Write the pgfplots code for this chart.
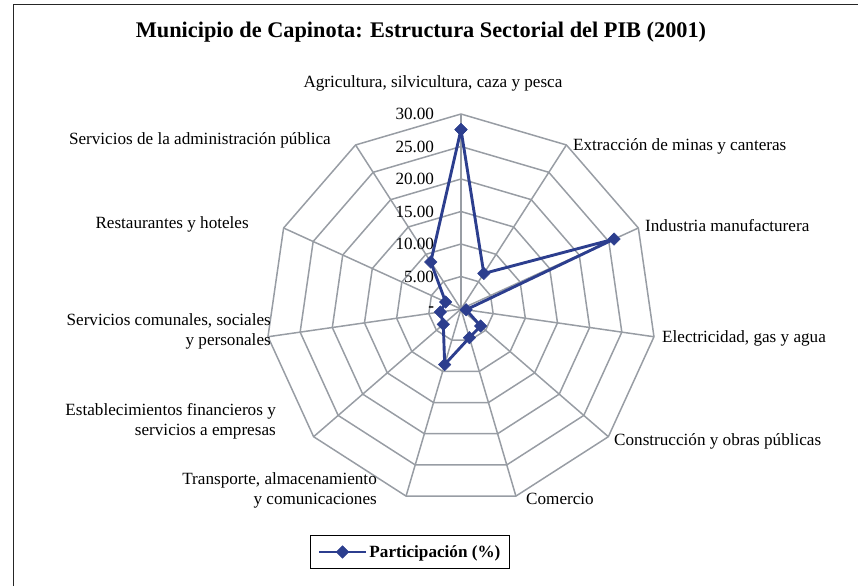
\documentclass[border=0pt]{standalone}
\usepackage{fontspec}
\setmainfont{Liberation Serif}
\usepackage{pgfplots}
\pgfplotsset{compat=1.18}
\usepackage{pgfplotstable}

\definecolor{serie}{RGB}{44,62,142}
\definecolor{rejilla}{RGB}{152,157,164}

% angles of the 11 spokes (clockwise from the top)
\pgfplotstableread{
ang one
90 1
57.2727 1
24.5455 1
-8.1818 1
-40.9091 1
-73.6364 1
-106.3636 1
-139.0909 1
-171.8182 1
-204.5455 1
-237.2727 1
90 1
}\angulos

% Participacion (%) by sector, polar: angle, value
\pgfplotstableread{
ang val
90 27.6
57.2727 6.5
24.5455 25.9
-8.1818 0.8
-40.9091 4.0
-73.6364 4.6
-106.3636 8.9
-139.0909 3.6
-171.8182 3.2
-204.5455 2.6
-237.2727 8.6
90 27.6
}\pib

\begin{document}
\begin{tikzpicture}
\begin{axis}[
  x=6.5bp, y=6.5bp,
  xmin=-70.92, xmax=61.08,
  ymin=-42.62, ymax=47.54,
  hide axis,
  clip=false,
  legend style={at={(axis cs:-7.85,-37.38)}, anchor=center,
    draw=black, line width=1.1pt, inner xsep=7pt, inner ysep=8pt,
    font=\fontsize{17.2}{20}\selectfont\bfseries},
  legend image code/.code={
    \draw[mark repeat=2,mark phase=2,#1] plot coordinates {(0cm,0cm)(0.83cm,0cm)(1.66cm,0cm)};},
]
% rings
\pgfplotsinvokeforeach{5,10,15,20,25,30}{
  \addplot[rejilla, line width=1.5pt, forget plot, data cs=polar] table[x=ang, y expr=#1*\thisrow{one}] {\angulos};
}
% spokes
\pgfplotsinvokeforeach{90,57.2727,24.5455,-8.1818,-40.9091,-73.6364,-106.3636,-139.0909,-171.8182,-204.5455,-237.2727}{
  \addplot[rejilla, line width=1.5pt, forget plot, data cs=polar] coordinates {(#1,0) (#1,30)};
}
% series
\addplot[serie, line width=2.9pt, mark=square*, mark size=4.4pt,
  mark options={rotate=45, solid, line width=0.5pt}, data cs=polar]
  table[x=ang, y=val] {\pib};
\addlegendentry{Participación (\%)}

% radial tick labels
\begin{scope}[every node/.style={anchor=east, font=\fontsize{17.2}{20}\selectfont}]
\node at (axis cs:-3.6,30) {30.00};
\node at (axis cs:-3.6,25) {25.00};
\node at (axis cs:-3.6,20) {20.00};
\node at (axis cs:-3.6,15) {15.00};
\node at (axis cs:-3.6,10) {10.00};
\node at (axis cs:-3.6,5) {5.00};
\node at (axis cs:-3.6,0) {\textbf{-}};
\end{scope}

% category labels
\begin{scope}[every node/.style={font=\fontsize{17.2}{20}\selectfont, inner sep=0pt}]
\node[anchor=center] at (axis cs:-4.31,34.77) {Agricultura, silvicultura, caza y pesca};
\node[anchor=west] at (axis cs:17.23,25.08) {Extracción de minas y canteras};
\node[anchor=west] at (axis cs:28.31,12.77) {Industria manufacturera};
\node[anchor=west] at (axis cs:30.92,-4.46) {Electricidad, gas y agua};
\node[anchor=west] at (axis cs:23.54,-20.31) {Construcción y obras públicas};
\node[anchor=west] at (axis cs:10.0,-29.23) {Comercio};
\node[anchor=east, align=right] at (axis cs:-12.92,-27.85) {Transporte, almacenamiento\\y comunicaciones};
\node[anchor=east, align=right] at (axis cs:-28.46,-17.23) {Establecimientos financieros y\\servicios a empresas};
\node[anchor=east, align=right] at (axis cs:-29.23,-3.38) {Servicios comunales, sociales\\y personales};
\node[anchor=east] at (axis cs:-32.62,13.08) {Restaurantes y hoteles};
\node[anchor=east] at (axis cs:-20.0,26.0) {Servicios de la administración pública};
\end{scope}

% title
\node[font=\fontsize{22.4}{26}\selectfont\bfseries] at (axis cs:-6.15,42.62)
  {Municipio de Capinota: Estructura Sectorial del PIB (2001)};

% chart frame (only top and left edges fall inside the picture)
\draw[black!85, line width=1.4pt] (axis cs:-68.85,-42.62) -- (axis cs:-68.85,46.85) -- (axis cs:61.08,46.85);
\coordinate (bl) at (axis cs:-70.92,-42.62);
\coordinate (tr) at (axis cs:61.08,47.54);
\end{axis}
\pgfresetboundingbox
\path (bl) rectangle (tr);
\end{tikzpicture}
\end{document}
